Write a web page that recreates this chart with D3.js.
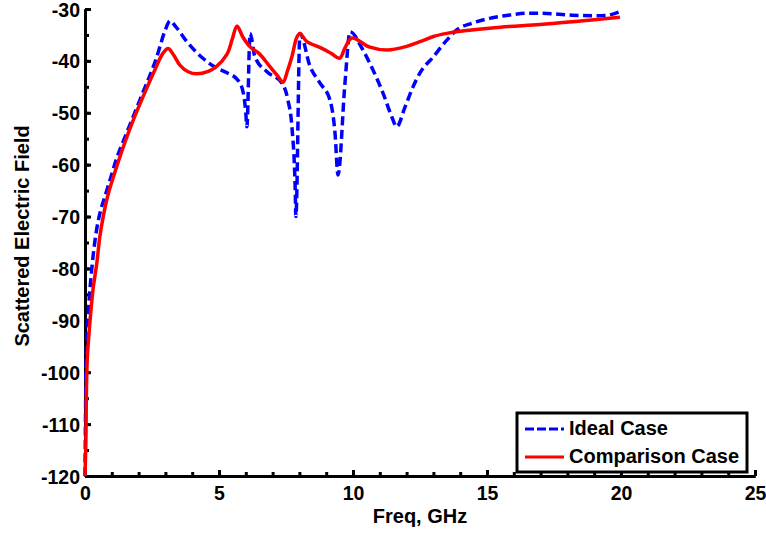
<!DOCTYPE html>
<html>
<head>
<meta charset="utf-8">
<script src="https://cdn.jsdelivr.net/npm/d3@7"></script>
<style>
  body { margin: 0; background: #fff; }
  svg { font-family: "Liberation Sans", Arial, sans-serif; font-weight: bold; }
  .axis text { font-size: 19.5px; font-weight: bold; fill: #000; }
  .axis .domain, .axis line { stroke: #000; stroke-width: 3; }
</style>
</head>
<body>
<svg id="chart" width="766" height="533"></svg>
<script>
// Ideal case (dashed blue)
const idealFreq = [0, 0.02, 0.04, 0.08, 0.12, 0.26, 0.45, 0.56, 0.75, 0.93, 1.2, 1.49, 2.05, 2.68, 3.0, 3.17, 3.4, 3.8, 4.4, 4.85, 5.3, 5.7, 5.9, 6.0, 6.04, 6.16,
  6.34, 6.79, 7.35, 7.57, 7.72, 7.84, 7.87, 8.02, 8.4, 8.77, 9.14, 9.33, 9.44, 9.7, 9.89,
  10.37, 10.75, 11.12, 11.45, 11.63, 11.94, 12.24, 12.5, 13.0, 13.5, 13.88, 14.4, 15.1, 15.8, 16.6, 17.4, 18.2, 19.0, 19.5, 19.96];
const idealField = [-120, -108, -98, -92, -88.6, -79.7, -72, -69.3, -66, -63, -58.5, -54.7, -47.5, -39.2, -34, -32.3, -33.5, -36.3, -39.5, -41.2, -42.3, -43.7, -46, -50, -52.7, -34.7,
  -39.2, -42.1, -44.3, -47.5, -52.7, -64, -70, -34.7, -41.1, -44.3, -47.5, -54, -62, -44.3, -34.4,
  -37.9, -41.8, -46.2, -50.8, -52.7, -48.9, -45, -42.3, -39.2, -36, -34, -32.8, -31.8, -31.2, -30.8, -30.9, -31.2, -31.3, -31.2, -30.5];

// Comparison case (solid red)
const compFreq = [0, 0.03, 0.08, 0.19, 0.3, 0.44, 0.55, 0.68, 0.85, 1.05, 1.4, 1.8, 2.2, 2.55, 2.9, 3.1, 3.3, 3.54, 3.85, 4.17, 4.6, 4.9, 5.3, 5.5, 5.67, 5.9, 6.16,
  6.5, 6.9, 7.2, 7.39, 7.55, 7.72, 7.9, 8.02, 8.28, 8.8, 9.2, 9.5, 9.7, 9.96, 10.6, 11.27, 12.0, 12.5, 13.0, 13.5, 14.0, 15.5, 17.0, 18.5, 19.96];
const compField = [-120, -114, -98, -90, -84, -79, -74, -70, -66, -62.5, -57, -51.4, -46.5, -42.4, -38.6, -37.6, -38.8, -40.8, -42.1, -42.5, -42, -41.1, -38.7, -35.7, -33.3, -35.5, -37.3,
  -38.6, -41.1, -43, -44.1, -42, -39.2, -35.5, -34.7, -36.3, -37.5, -38.6, -39.5, -37.5, -35.6, -37.3, -37.9, -37.2, -36.3, -35.3, -34.7, -34.3, -33.5, -33, -32.3, -31.6];

const xTicks = [0, 5, 10, 15, 20, 25];
const yTicks = [-120, -110, -100, -90, -80, -70, -60, -50, -40, -30];
const seriesNames = ["Ideal Case", "Comparison Case"];

const margin = { top: 9, right: 11, bottom: 57, left: 85 };
const svg = d3.select('#chart');
const width = +svg.attr('width');
const height = +svg.attr('height');

const x = d3.scaleLinear().domain([0, 25]).range([margin.left, width - margin.right]);
const y = d3.scaleLinear().domain([-120, -30]).range([height - margin.bottom, margin.top]);

// plain hyphen minus like the original figure
const fmt = (d) => String(d);

// minor ticks
svg.append('g')
  .attr('class', 'axis')
  .attr('transform', `translate(0,${height - margin.bottom})`)
  .call(d3.axisBottom(x).tickValues(d3.range(0, 26, 1)).tickSizeInner(-4).tickSizeOuter(0).tickFormat(''))
  .call((g) => g.selectAll('line').attr('stroke-width', 2.5));
svg.append('g')
  .attr('class', 'axis')
  .attr('transform', `translate(${margin.left},0)`)
  .call(d3.axisLeft(y).tickValues(d3.range(-120, -29, 5)).tickSizeInner(-4).tickSizeOuter(0).tickFormat(''))
  .call((g) => g.selectAll('line').attr('stroke-width', 2.5));

// major axes
svg.append('g')
  .attr('class', 'axis')
  .attr('transform', `translate(0,${height - margin.bottom})`)
  .call(d3.axisBottom(x).tickValues(xTicks).tickSizeInner(-6).tickSizeOuter(0).tickPadding(10).tickFormat(fmt));
svg.append('g')
  .attr('class', 'axis')
  .attr('transform', `translate(${margin.left},0)`)
  .call(d3.axisLeft(y).tickValues(yTicks).tickSizeInner(-6).tickSizeOuter(0).tickPadding(5).tickFormat(fmt))
  .call((g) => g.selectAll('text').attr('dy', '0.36em'));

const line = d3.line()
  .x((d) => x(d[0]))
  .y((d) => y(d[1]));

const idealData = idealFreq.map((f, i) => [f, idealField[i]]);
const compData = compFreq.map((f, i) => [f, compField[i]]);

svg.append('path')
  .datum(idealData)
  .attr('fill', 'none')
  .attr('stroke', '#0000ff')
  .attr('stroke-width', 3.5)
  .attr('stroke-dasharray', '9,4.5')
  .attr('d', line.curve(d3.curveMonotoneX));

svg.append('path')
  .datum(compData)
  .attr('fill', 'none')
  .attr('stroke', '#ff0000')
  .attr('stroke-width', 3.5)
  .attr('d', line.curve(d3.curveCatmullRom.alpha(0.5)));

// axis titles
svg.append('text')
  .attr('x', (margin.left + width - margin.right) / 2)
  .attr('y', 523)
  .attr('text-anchor', 'middle')
  .attr('font-size', 20)
  .text('Freq, GHz');

svg.append('text')
  .attr('transform', 'translate(29,236) rotate(-90)')
  .attr('text-anchor', 'middle')
  .attr('font-size', 20)
  .text('Scattered Electric Field');

// legend
const legend = svg.append('g').attr('transform', 'translate(517,413)');
legend.append('rect')
  .attr('width', 230)
  .attr('height', 59)
  .attr('fill', '#fff')
  .attr('stroke', '#000')
  .attr('stroke-width', 3);
const legendStyles = [
  { color: '#0000ff', dash: '9,3' },
  { color: '#ff0000', dash: null }
];
seriesNames.forEach((name, i) => {
  const yy = 16 + i * 28;
  legend.append('line')
    .attr('x1', 8).attr('x2', 47)
    .attr('y1', yy).attr('y2', yy)
    .attr('stroke', legendStyles[i].color)
    .attr('stroke-width', 3)
    .attr('stroke-dasharray', legendStyles[i].dash);
  legend.append('text')
    .attr('x', 52)
    .attr('y', yy + 6)
    .attr('font-size', 20)
    .text(name);
});
</script>
</body>
</html>
